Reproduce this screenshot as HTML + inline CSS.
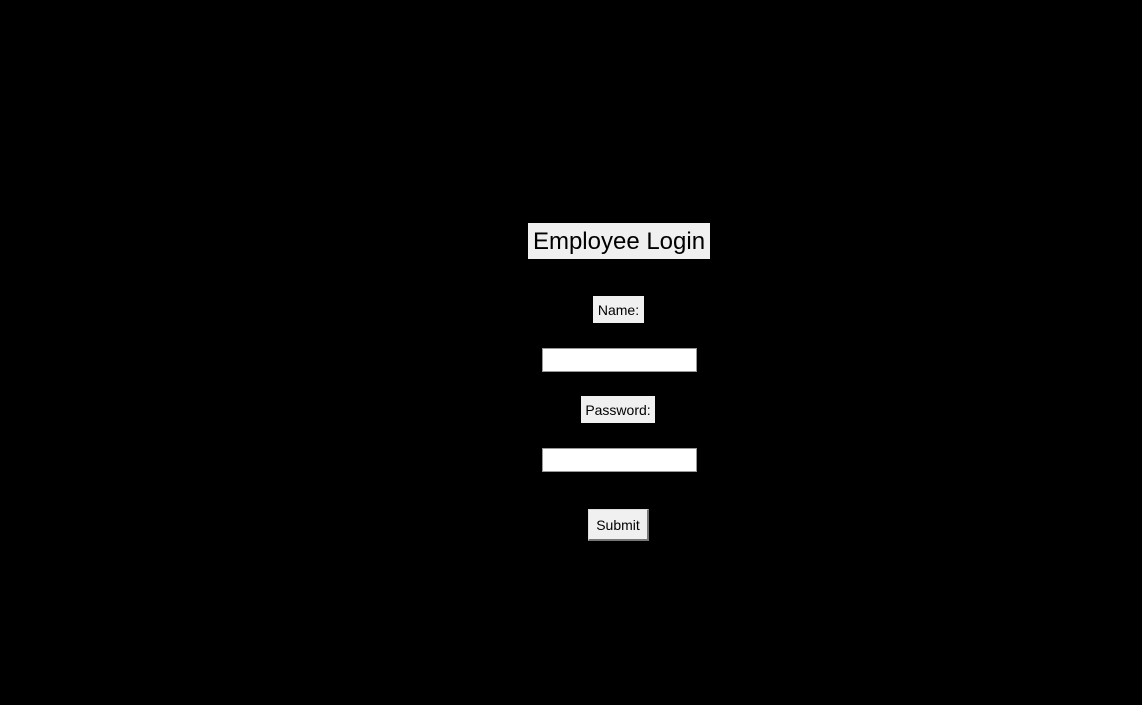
<!DOCTYPE html>
<html><head><style>
body{margin:0;width:1142px;height:705px;background:#000;position:relative;overflow:hidden;font-family:"Liberation Sans",sans-serif}
div{position:absolute;box-sizing:border-box;background:#f0f0f0;color:#000;text-align:center}
</style></head><body>
<div style="left:528px;top:223px;width:182px;height:36px;font-size:24px;line-height:38px">Employee Login</div>
<div style="left:593px;top:296px;width:51px;height:27px;font-size:14px;line-height:28px">Name:</div>
<div style="left:542px;top:348px;width:155px;height:24px;background:#fff;border:1px solid #999"></div>
<div style="left:581px;top:396px;width:74px;height:27px;font-size:14px;line-height:28px">Password:</div>
<div style="left:542px;top:448px;width:155px;height:24px;background:#fff;border:1px solid #999"></div>
<div style="left:588px;top:509px;width:61px;height:32px;font-size:14px;line-height:30px;border:1px solid #ddd;border-right:2px solid #777;border-bottom:2px solid #777">Submit</div>
</body></html>
